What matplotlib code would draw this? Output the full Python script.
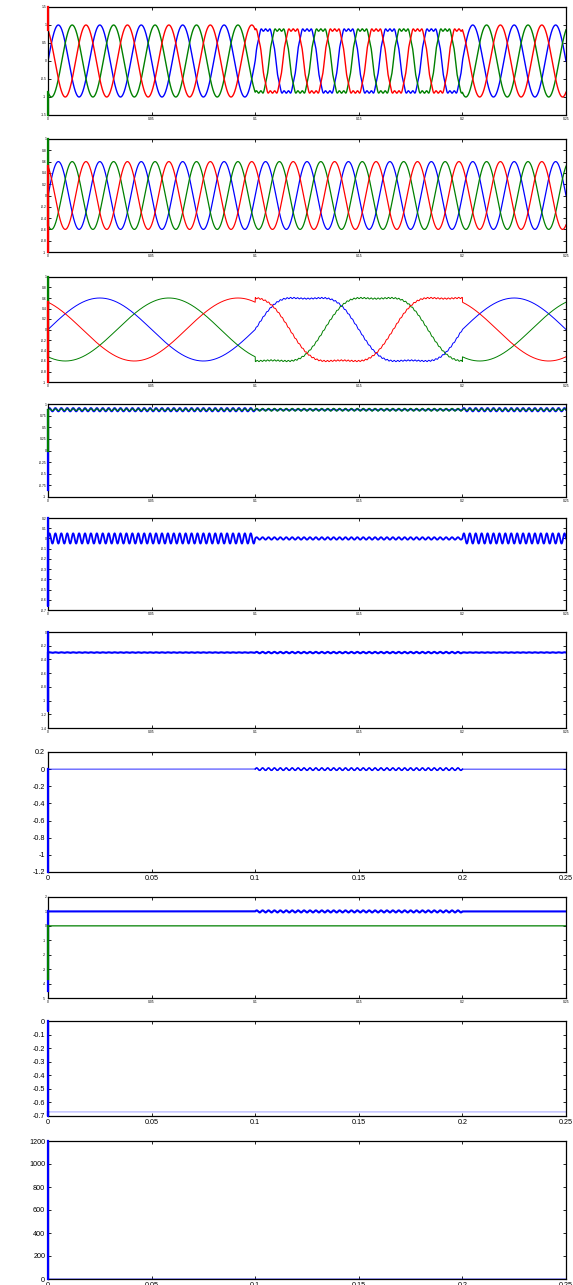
# Simulacao trifasica: tensoes, referencias e sinais de controle (10 graficos)
import numpy as np
import matplotlib
matplotlib.use("Agg")
import matplotlib.pyplot as plt

plt.rcParams["font.family"] = ["Liberation Sans", "DejaVu Sans"]
plt.rcParams["axes.unicode_minus"] = False

# ---- parametros ----
t = np.linspace(0, 0.25, 6001)
janela = [0.1, 0.2]            # intervalo do disturbio
f_rede = 50.0                  # Hz, graficos 1 e 2
f_lenta = 10.0                 # Hz, grafico 3
f_ripple = 350.0               # Hz, ondulacao dos sinais dc
fases = [0, -120, 120]         # azul, verde, vermelho (graus)

amp_fonte = 1.0                # grafico 1 fora do disturbio
amp_sag = 0.87                 # grafico 1 durante o disturbio
harm3 = 0.15
harm9 = 0.04
amp_carga = 0.6                # grafico 2
amp_ref = 0.6                  # grafico 3

nivel4 = 0.877
ripple4 = [0.035, 0.015, 0.03]  # fora, azul dentro, verde dentro
nivel5 = 0.0
ripple5 = [0.05, 0.012]
nivel6 = -0.3
ripple6 = [0.004, 0.01]
nivel7 = 0.0
ripple7 = [0.0, 0.014]
nivel8 = [1.0, 0.0]             # azul, verde
ripple8 = [0.0, 0.07]
nivel9 = -0.67
nivel10 = 0.0

# valores iniciais (transitorio em t=0)
ini1 = {"g": [-1.7], "r": [1.7]}
ini2 = {"g": [1.2], "r": [-1.2]}
ini3 = {"g": [1.2], "r": [-1.2]}
ini4 = {"b": [-0.86], "g": [0.0]}
ini5 = [0.3, -0.66]
ini6 = [0.0, -1.15]
ini7 = [-1.3]
ini8 = {"b": [-4.5], "g": [-3.7]}
ini9 = [0.0, -0.7]
ini10 = [1300.0]

# limites e passos dos eixos y
ylims = [(-1.5, 1.5), (-1, 1), (-1, 1), (-1, 1), (-0.7, 0.2),
         (-1.4, 0), (-1.2, 0.2), (-5, 2), (-0.7, 0), (0, 1200)]
ypassos = [0.5, 0.2, 0.2, 0.25, 0.1, 0.2, 0.2, 1, 0.1, 200]
xticks = [0, 0.05, 0.1, 0.15, 0.2, 0.25]
grandes = [6, 8, 9]   # graficos com rotulos maiores

# ---- montagem dos sinais ----
dentro = (t >= janela[0]) & (t <= janela[1])
azul, verde, vermelho = "#0000ff", "#008000", "#ff0000"


def inicio(ax, k, ini, y, cor, lw=1.6):
    # segmento vertical do transitorio em t=0, desenhado sobre o eixo
    yy = np.clip(np.r_[ini, y[0]], *ylims[k])
    ax.plot(np.zeros(len(yy)), yy, color=cor, lw=lw, clip_on=False, zorder=4)


def trifasico(f, amp, amp_d, h3, h9, ruido=0.0):
    ondas = []
    for fa in fases:
        th = 2 * np.pi * f * t + np.deg2rad(fa)
        normal = amp * np.sin(th)
        dist = amp_d * (np.sin(th) + h3 * np.sin(3 * th)) / 0.867 + h9 * np.sin(9 * th)
        dist = dist + ruido * np.sin(2 * np.pi * 600 * t + np.deg2rad(fa))
        ondas.append(np.where(dentro, dist, normal))
    return ondas


rip = np.sin(2 * np.pi * f_ripple * t)

W, H = 573, 1285
esq, dir_ = 48, 566
topos = [7, 139, 277, 404, 518, 632, 752, 897, 1021, 1141]
bases = [115, 252, 382, 497, 610, 728, 872, 998, 1116, 1279]

fig = plt.figure(figsize=(W / 100, H / 100), dpi=100)
eixos = []
for i, (tp, bs) in enumerate(zip(topos, bases)):
    ax = fig.add_axes([esq / W, 1 - bs / H, (dir_ - esq) / W, (bs - tp) / H])
    eixos.append(ax)

# grafico 1
b, g, r = trifasico(f_rede, amp_fonte, amp_sag, harm3, harm9)
ax = eixos[0]
ax.plot(t, b, color=azul, lw=1.0)
ax.plot(t, g, color=verde, lw=1.0)
ax.plot(t, r, color=vermelho, lw=1.0)
inicio(ax, 0, ini1["g"], g, verde)
inicio(ax, 0, ini1["r"], r, vermelho)

# grafico 2
b, g, r = trifasico(f_rede, amp_carga, amp_carga * 0.867, 0, 0)
ax = eixos[1]
ax.plot(t, b, color=azul, lw=0.9)
ax.plot(t, g, color=verde, lw=0.9)
ax.plot(t, r, color=vermelho, lw=0.9)
inicio(ax, 1, ini2["g"], g, verde)
inicio(ax, 1, ini2["r"], r, vermelho)

# grafico 3
b, g, r = trifasico(f_lenta, amp_ref, amp_ref, harm3, 0, ruido=0.012)
ax = eixos[2]
ax.plot(t, b, color=azul, lw=0.7)
ax.plot(t, g, color=verde, lw=0.7)
ax.plot(t, r, color=vermelho, lw=0.7)
inicio(ax, 2, ini3["g"], g, verde)
inicio(ax, 2, ini3["r"], r, vermelho)

# grafico 4
ax = eixos[3]
b4 = nivel4 + np.where(dentro, ripple4[1], ripple4[0]) * rip
g4 = nivel4 + np.where(dentro, ripple4[2], ripple4[0] * 0.6) * rip
ax.plot(t, b4, color=azul, lw=1.4)
ax.plot(t, g4, color=verde, lw=0.8)
inicio(ax, 3, ini4["b"], b4, azul)
inicio(ax, 3, ini4["g"], g4, verde)

# grafico 5
ax = eixos[4]
s5 = nivel5 + np.where(dentro, ripple5[1], ripple5[0]) * rip
ax.plot(t, s5, color=azul, lw=1.3)
inicio(ax, 4, ini5, s5, azul)

# grafico 6
ax = eixos[5]
s6 = nivel6 + np.where(dentro, ripple6[1], ripple6[0]) * rip
ax.plot(t, s6, color=azul, lw=1.5)
inicio(ax, 5, ini6, s6, azul)

# grafico 7
ax = eixos[6]
s7 = nivel7 + np.where(dentro, ripple7[1], ripple7[0]) * rip
ax.plot(t, s7, color=azul, lw=0.6)
ax.plot(t[dentro], s7[dentro], color=azul, lw=1.1)
inicio(ax, 6, ini7, s7, azul)

# grafico 8
ax = eixos[7]
b8 = nivel8[0] + np.where(dentro, ripple8[1], ripple8[0]) * rip
g8 = nivel8[1] + 0 * t
ax.plot(t, b8, color=azul, lw=1.5)
ax.plot(t, g8, color=verde, lw=0.9)
inicio(ax, 7, ini8["b"], b8, azul)
inicio(ax, 7, ini8["g"], g8, verde)

# grafico 9
ax = eixos[8]
s9 = nivel9 + 0 * t
ax.plot(t, s9, color="#9090ff", lw=0.6)
inicio(ax, 8, ini9, s9, azul)

# grafico 10
ax = eixos[9]
s10 = nivel10 + 0 * t
ax.plot(t, s10, color=azul, lw=0.5)
inicio(ax, 9, ini10, s10, azul)

# ---- estilo dos eixos (tipo MATLAB) ----
for i, ax in enumerate(eixos):
    lo, hi = ylims[i]
    passo = ypassos[i]
    yt = np.round(np.arange(lo, hi + passo / 2, passo), 6)
    ax.set_ylim(lo, hi)
    ax.set_xlim(0, 0.25)
    ax.set_yticks(yt)
    ax.set_yticklabels(["{:g}".format(v + 0.0) for v in yt])
    ax.set_xticks(xticks)
    ax.set_xticklabels(["{:g}".format(v) for v in xticks])
    tam = 5.2 if i in grandes else 2.4
    ax.tick_params(direction="in", top=True, right=True, length=2.2,
                   width=0.6, labelsize=tam, pad=1.2 if tam < 3 else 2.0)
    for sp in ax.spines.values():
        sp.set_linewidth(0.9)
        sp.set_zorder(3)

plt.savefig("out.png", dpi=100)
